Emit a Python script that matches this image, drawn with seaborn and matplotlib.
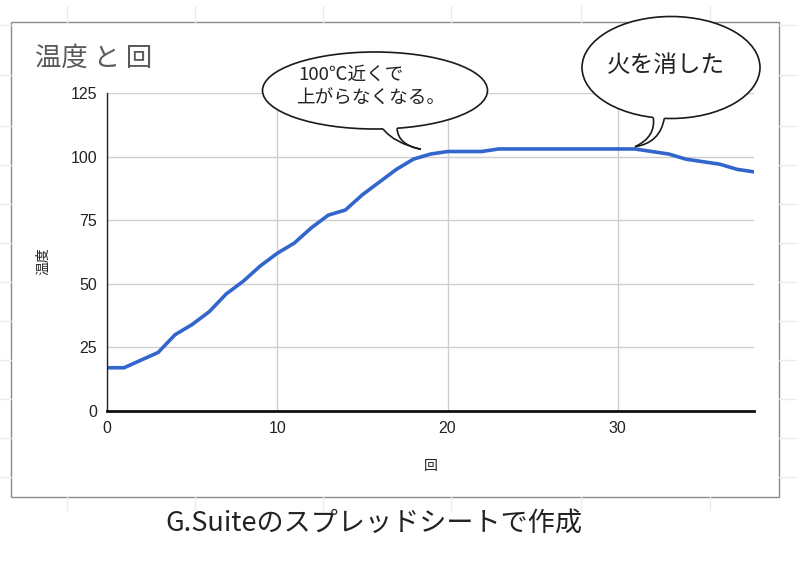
import matplotlib
matplotlib.use('Agg')
import matplotlib.pyplot as plt
import seaborn as sns
import pandas as pd
import numpy as np
from matplotlib.patches import Ellipse, Rectangle, PathPatch
from matplotlib.path import Path

# ---- data ----
rounds = list(range(39))
temps = [17, 17, 20, 23, 30, 34, 39, 46, 51, 57,
         62, 66, 72, 77, 79, 85, 90, 95, 99, 101,
         102, 102, 102, 103, 103, 103, 103, 103, 103, 103,
         103, 103, 102, 101, 99, 98, 97, 95, 94]
x_ticks = [0, 10, 20, 30]
y_ticks = [0, 25, 50, 75, 100, 125]
title_text = "温度 と 回"
x_label = "回"
y_label = "温度"
bubble1_lines = ["100℃近くで", "上がらなくなる。"]
bubble2_text = "火を消した"
caption = "G.Suiteのスプレッドシートで作成"

df = pd.DataFrame({x_label: rounds, y_label: temps})

sns.set_theme(style="white")
CJK = ['Noto Sans CJK JP', 'DejaVu Sans']
NUM = ['Liberation Sans', 'DejaVu Sans']
plt.rcParams['font.family'] = CJK

W, H = 800, 581
fig = plt.figure(figsize=(W / 100, H / 100), dpi=100)
fig.patch.set_facecolor('white')

# ---- background (spreadsheet cells + chart box) ----
bg = fig.add_axes([0, 0, 1, 1], zorder=0)
bg.set_xlim(0, W); bg.set_ylim(H, 0); bg.axis('off')
faint = '#ebebeb'
for cx in [67, 195, 323, 451, 581, 710]:
    bg.plot([cx, cx], [6, 22], color=faint, lw=1)
    bg.plot([cx, cx], [497, 510], color=faint, lw=1)
for ry in [25, 75, 126, 165, 204, 243, 282, 321, 360, 399, 438, 477]:
    bg.plot([0, 11], [ry, ry], color=faint, lw=1)
    bg.plot([779, 796], [ry, ry], color=faint, lw=1)
bg.add_patch(Rectangle((10.7, 21.7), 779 - 10.7, 496.7 - 21.7,
                       facecolor='white', edgecolor='#8a8a8a', lw=1))

# ---- main chart ----
ax = fig.add_axes([107 / W, 1 - 411 / H, (754 - 107) / W, (411 - 93) / H], zorder=2)
ax.set_facecolor('none')
sns.lineplot(data=df, x=x_label, y=y_label, color='#3366cc', lw=2.6, ax=ax,
             solid_capstyle='round')
ax.set_xlim(0, 38)
ax.set_ylim(0, 125)
ax.set_xticks(x_ticks)
ax.set_yticks(y_ticks)
ax.grid(True, color='#cfcfcf', lw=1)
ax.set_axisbelow(True)
for s in ['top', 'right']:
    ax.spines[s].set_visible(False)
ax.spines['left'].set_color('#222222'); ax.spines['left'].set_linewidth(1.0)
ax.spines['bottom'].set_color('#111111'); ax.spines['bottom'].set_linewidth(2.0)
ax.tick_params(axis='both', length=0, labelsize=11.5, labelcolor='#222222')
ax.tick_params(axis='y', pad=7)
ax.tick_params(axis='x', pad=7)
for lab in ax.get_xticklabels() + ax.get_yticklabels():
    lab.set_family(NUM)
ax.set_xlabel(x_label, fontsize=10, color='#222222')
ax.set_ylabel(y_label, fontsize=10, color='#222222')
ax.xaxis.set_label_coords(0.5, -0.152)
ax.yaxis.set_label_coords(-0.088, 0.47)

# ---- overlay: title, bubbles, caption ----
ov = fig.add_axes([0, 0, 1, 1], zorder=5)
ov.set_xlim(0, W); ov.set_ylim(H, 0); ov.axis('off'); ov.set_facecolor('none')

ov.text(35, 58, title_text, fontsize=19, color='#5a5a5a', ha='left', va='center',
        family=CJK)


def bubble(cx, cy, w, h, bx_left, bx_right, tip, c_left, c_right, lw=1.2):
    a, b = w / 2, h / 2
    def on_edge(x):
        return cy + b * np.sqrt(max(0.0, 1 - ((x - cx) / a) ** 2))
    pl = (bx_left, on_edge(bx_left))
    pr = (bx_right, on_edge(bx_right))
    ov.add_patch(Ellipse((cx, cy), w, h, facecolor='white', edgecolor='#1a1a1a',
                         lw=lw, zorder=1))
    verts = [(pl[0], pl[1] - 4), pl, c_left, tip, c_right, pr, (pr[0], pr[1] - 4),
             (pl[0], pl[1] - 4)]
    codes = [Path.MOVETO, Path.LINETO, Path.CURVE3, Path.CURVE3, Path.CURVE3,
             Path.CURVE3, Path.LINETO, Path.CLOSEPOLY]
    ov.add_patch(PathPatch(Path(verts, codes), facecolor='white', edgecolor='none',
                           zorder=2))
    ov.add_patch(PathPatch(Path([pl, c_left, tip], [Path.MOVETO, Path.CURVE3, Path.CURVE3]),
                           facecolor='none', edgecolor='#1a1a1a', lw=lw, zorder=3))
    ov.add_patch(PathPatch(Path([pr, c_right, tip], [Path.MOVETO, Path.CURVE3, Path.CURVE3]),
                           facecolor='none', edgecolor='#1a1a1a', lw=lw, zorder=3))


bubble(375, 90.5, 225, 77, 383, 397, (421, 149.3), (394, 143), (398, 145))
bubble(671, 67.5, 178, 102, 653.3, 664.3, (635, 146.7), (656, 137), (660, 143))

ov.text(298, 75, bubble1_lines[0], fontsize=13.4, color='#222222', ha='left',
        va='center', family=CJK, zorder=4)
ov.text(296, 99, bubble1_lines[1], fontsize=13.4, color='#222222', ha='left',
        va='center', family=CJK, zorder=4)
ov.text(666, 66, bubble2_text, fontsize=17, color='#222222', ha='center',
        va='center', family=CJK, zorder=4)

ov.text(374, 523, caption, fontsize=19.5, color='#222222', ha='center', va='center',
        family=CJK)

fig.savefig('out.png', dpi=100, facecolor='white')
